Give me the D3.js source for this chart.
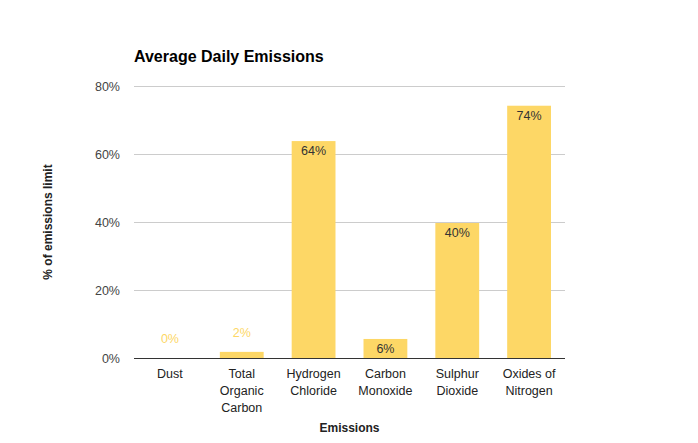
<!DOCTYPE html>
<html>
<head>
<meta charset="utf-8">
<script src="https://cdn.jsdelivr.net/npm/d3@7"></script>
<style>
body { margin: 0; background: #fff; }
text { font-family: Arial, "Liberation Sans", sans-serif; }
</style>
</head>
<body>
<script>
// chart data
var categories = [['Dust'], ['Total', 'Organic', 'Carbon'], ['Hydrogen', 'Chloride'], ['Carbon', 'Monoxide'], ['Sulphur', 'Dioxide'], ['Oxides of', 'Nitrogen']];
var values = [0, 1.8, 63.8, 5.6, 39.7, 74.2];
var labels = ['0%', '2%', '64%', '6%', '40%', '74%'];
var y_ticks = [0, 20, 40, 60, 80];

var width = 698, height = 443;
var left = 134, right = 565, top_y = 86, bottom = 358;
var bar_color = '#fdd766';

var svg = d3.select('body').append('svg').attr('width', width).attr('height', height)

var xScale = d3.scaleBand()
	.domain(d3.range(categories.length))
	.range([left, right])
	.paddingInner(0.39).paddingOuter(0.195)

var yScale = d3.scaleLinear()
	.domain([0, 80])
	.range([bottom, top_y])

// title
svg.append('text').text('Average Daily Emissions')
	.attr('x', left).attr('y', 62).attr('font-size', '16px').attr('font-weight', 'bold').attr('fill', '#000')

// gridlines + y labels
var yAxis = svg.append('g')
yAxis.selectAll('line').data(y_ticks.filter(d => d > 0)).enter().append('line')
	.attr('x1', left).attr('x2', right)
	.attr('y1', d => yScale(d) + 0.5).attr('y2', d => yScale(d) + 0.5)
	.attr('stroke', '#cccccc').attr('stroke-width', 1)
yAxis.selectAll('text').data(y_ticks).enter().append('text')
	.text(d => d + '%')
	.attr('x', 120).attr('y', d => yScale(d) + 4.5)
	.attr('text-anchor', 'end').attr('font-size', '12.5px').attr('fill', '#444')

// bars
svg.selectAll('.bar').data(values).enter().append('rect')
	.attr('class', 'bar')
	.attr('x', (d, i) => xScale(i))
	.attr('width', xScale.bandwidth())
	.attr('y', d => yScale(d))
	.attr('height', d => bottom - yScale(d))
	.attr('fill', bar_color)

// value labels: inside the bar when it fits, otherwise above in bar colour
svg.selectAll('.val').data(values).enter().append('text')
	.attr('class', 'val')
	.text((d, i) => labels[i])
	.attr('x', (d, i) => xScale(i) + xScale.bandwidth() / 2)
	.attr('y', d => d >= 5 ? yScale(d) + 14 : yScale(d) - 15)
	.attr('text-anchor', 'middle').attr('font-size', '12.5px')
	.attr('fill', d => d >= 5 ? '#333' : bar_color)

// baseline
svg.append('line')
	.attr('x1', left).attr('x2', right)
	.attr('y1', bottom + 0.5).attr('y2', bottom + 0.5)
	.attr('stroke', '#333').attr('stroke-width', 1)

// x labels
var xl = svg.selectAll('.xlab').data(categories).enter().append('text')
	.attr('class', 'xlab')
	.attr('x', (d, i) => xScale(i) + xScale.bandwidth() / 2)
	.attr('y', 378)
	.attr('text-anchor', 'middle').attr('font-size', '12.5px').attr('fill', '#222')
xl.selectAll('tspan').data(d => d).enter().append('tspan')
	.text(d => d)
	.attr('x', function() { return this.parentNode.getAttribute('x') })
	.attr('dy', (d, i) => i == 0 ? 0 : 17)

// axis titles
svg.append('text').text('Emissions')
	.attr('x', (left + right) / 2).attr('y', 432)
	.attr('text-anchor', 'middle').attr('font-size', '12px').attr('font-weight', 'bold').attr('fill', '#222')
svg.append('text').text('% of emissions limit')
	.attr('transform', 'translate(52,' + ((top_y + bottom) / 2) + ') rotate(-90)')
	.attr('text-anchor', 'middle').attr('font-size', '12px').attr('font-weight', 'bold').attr('fill', '#222')
</script>
</body>
</html>
